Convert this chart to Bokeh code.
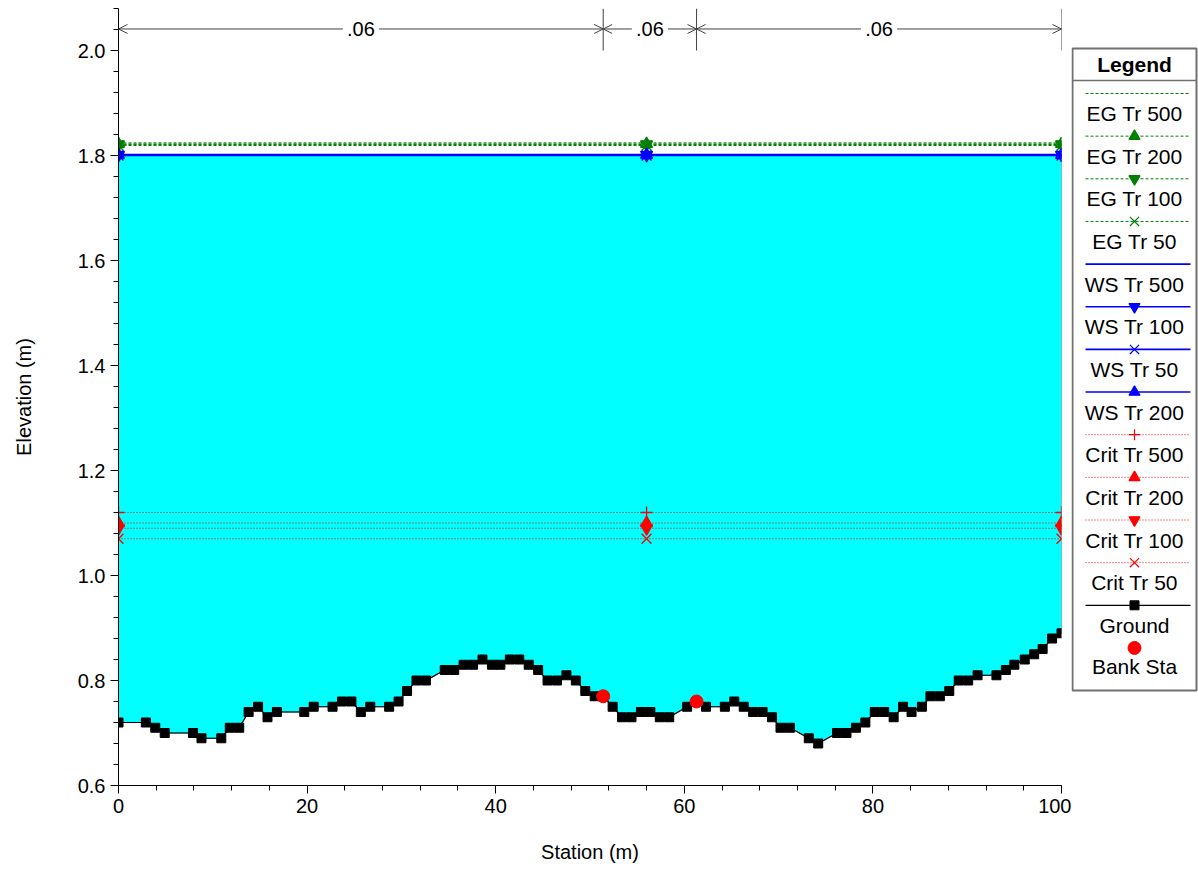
from bokeh.plotting import figure
from bokeh.models import Range1d, SingleIntervalTicker, PrintfTickFormatter, Arrow, OpenHead
from bokeh.layouts import row
from bokeh.embed import file_html
from bokeh.resources import INLINE
from bokeh.core.properties import value

FONT = "Liberation Sans"

# ---------------- data ----------------
station = [0, 2.9, 3.9, 4.9, 7.9, 8.8, 10.9, 11.8, 12.8, 13.8, 14.8, 15.8, 16.8, 19.7,
           20.7, 22.7, 23.7, 24.7, 25.7, 26.7, 28.7, 29.7, 30.6, 31.6, 32.6, 34.6, 35.6,
           36.6, 37.6, 38.6, 39.6, 40.5, 41.5, 42.5, 43.5, 44.5, 45.5, 46.5, 47.5, 48.5,
           49.5, 50.5, 51.4, 52.4, 53.4, 54.4, 55.4, 56.4, 57.4, 58.4, 60.3, 61.3, 62.3,
           64.3, 65.3, 66.3, 67.3, 68.3, 69.3, 70.2, 71.2, 73.2, 74.2, 76.2, 77.2, 78.2,
           79.2, 80.2, 81.2, 82.2, 83.2, 84.1, 85.2, 86.1, 87.1, 88.1, 89.1, 90.1, 91.1,
           93.1, 94.1, 95.0, 96.1, 97.1, 98.0, 99.0, 100]
elevation = [0.72, 0.72, 0.71, 0.70, 0.70, 0.69, 0.69, 0.71, 0.71, 0.74, 0.75, 0.73, 0.74, 0.74,
             0.75, 0.75, 0.76, 0.76, 0.74, 0.75, 0.75, 0.76, 0.78, 0.80, 0.80, 0.82, 0.82,
             0.83, 0.83, 0.84, 0.83, 0.83, 0.84, 0.84, 0.83, 0.82, 0.80, 0.80, 0.81, 0.80,
             0.78, 0.77, 0.77, 0.75, 0.73, 0.73, 0.74, 0.74, 0.73, 0.73, 0.75, 0.76, 0.75,
             0.75, 0.76, 0.75, 0.74, 0.74, 0.73, 0.71, 0.71, 0.69, 0.68, 0.70, 0.70, 0.71,
             0.72, 0.74, 0.74, 0.73, 0.75, 0.74, 0.75, 0.77, 0.77, 0.78, 0.80, 0.80, 0.81,
             0.81, 0.82, 0.83, 0.84, 0.85, 0.86, 0.88, 0.89]

bank_station = [51.4, 61.3]
bank_elevation = [0.77, 0.76]

profile_names = ["EG Tr 500", "EG Tr 200", "EG Tr 100", "EG Tr 50",
                 "WS Tr 500", "WS Tr 100", "WS Tr 50", "WS Tr 200",
                 "Crit Tr 500", "Crit Tr 200", "Crit Tr 100", "Crit Tr 50"]
profile_elev = [1.824, 1.822, 1.821, 1.819,
                1.802, 1.801, 1.800, 1.801,
                1.12, 1.10, 1.09, 1.07]
profile_markers = [None, "triangle", "inverted_triangle", "x",
                   None, "inverted_triangle", "x", "triangle",
                   "cross", "triangle", "inverted_triangle", "x"]
symbol_stations = [0, 56, 100]
water_surface = 1.80

n_stations = [0, 51.4, 61.3, 100]
n_values = [".06", ".06", ".06"]

x_start, x_end = 0, 100
y_start, y_end = 0.6, 2.08

STYLE = {"EG": ("#008000", "3 2", 1),
         "WS": ("#0000FF", "solid", 1.6),
         "Crit": ("#FF0000", "1 2", 1)}
MSIZE = {"triangle": 12, "inverted_triangle": 12, "x": 14, "cross": 12}

# ---------------- main figure ----------------
W, H = 1071, 868
BL, BR, BT, BB = 118, 10, 8, 83
p = figure(width=W, height=H, output_backend="svg", toolbar_location=None,
           x_range=Range1d(x_start, x_end), y_range=Range1d(y_start, y_end),
           min_border_left=BL, min_border_right=BR, min_border_top=BT,
           min_border_bottom=BB, background_fill_color="white")
p.outline_line_color = None
p.grid.visible = False

p.xaxis.ticker = SingleIntervalTicker(interval=20, num_minor_ticks=5)
p.yaxis.ticker = SingleIntervalTicker(interval=0.2, num_minor_ticks=5)
p.yaxis.formatter = PrintfTickFormatter(format="%.1f")
for ax in (p.xaxis, p.yaxis):
    ax.axis_line_color = "black"
    ax.major_tick_line_color = "black"
    ax.minor_tick_line_color = "black"
    ax.major_tick_out = 8
    ax.major_tick_in = 0
    ax.minor_tick_out = 5
    ax.minor_tick_in = 0
    ax.major_label_text_font = FONT
    ax.major_label_text_font_size = "20px"
    ax.major_label_text_color = "black"
    ax.axis_label_text_font = FONT
    ax.axis_label_text_font_size = "20px"
    ax.axis_label_text_font_style = "normal"
    ax.axis_label_text_color = "black"
p.xaxis.axis_label = "Station (m)"
p.yaxis.axis_label = "Elevation (m)"
p.xaxis.axis_label_standoff = 25
p.yaxis.axis_label_standoff = 40

# water fill
px = list(station) + [station[-1], station[0]]
py = list(elevation) + [water_surface, water_surface]
p.patch(px, py, fill_color="#00FFFF", line_color="#2a8a8a", line_width=1)

# profile lines and symbols
for name, ev, mk in zip(profile_names, profile_elev, profile_markers):
    kind = name.split()[0]
    col, dash, lw = STYLE[kind]
    p.line([x_start, x_end], [ev, ev], line_color=col, line_dash=dash, line_width=lw)
    if mk:
        p.scatter(symbol_stations, [ev] * len(symbol_stations), marker=mk,
                  size=MSIZE[mk], fill_color=col, line_color=col, line_width=1.3)

# ground
p.line(station, elevation, line_color="black", line_width=1.2)
p.scatter(station, elevation, marker="square", size=9, fill_color="black", line_color="black")
# bank stations
p.scatter(bank_station, bank_elevation, marker="circle", size=13,
          fill_color="#FF0000", line_color="#FF0000")

# n-value annotations
px_per_unit = (W - BL - BR) / (x_end - x_start)
gap = 18 / px_per_unit
y_arrow = 2.041
acol = "#404040"
for s in n_stations[1:]:
    p.line([s, s], [2.0, y_end], line_color=acol, line_width=1)
for a, b, lab in zip(n_stations[:-1], n_stations[1:], n_values):
    mid = (a + b) / 2
    p.add_layout(Arrow(x_start=mid - gap, y_start=y_arrow, x_end=a, y_end=y_arrow,
                       line_color=acol, line_width=1,
                       end=OpenHead(size=9, line_color=acol, line_width=1)))
    p.add_layout(Arrow(x_start=mid + gap, y_start=y_arrow, x_end=b, y_end=y_arrow,
                       line_color=acol, line_width=1,
                       end=OpenHead(size=9, line_color=acol, line_width=1)))
    p.text([mid], [y_arrow], text=[lab], text_align="center", text_baseline="middle",
           text_font=value(FONT), text_font_size="20px", text_color="black")

# ---------------- legend figure (page-pixel coordinates; frame aligned with main) ----------------
LW = 127
LX0 = W  # page x of legend figure's left edge
frame_top_px, frame_bot_px = BT, H - BB
lg = figure(width=LW, height=H, output_backend="svg", toolbar_location=None,
            x_range=Range1d(LX0, LX0 + LW), y_range=Range1d(frame_bot_px, frame_top_px),
            x_axis_location=None, y_axis_location=None,
            min_border_left=0, min_border_right=0,
            min_border_top=BT, min_border_bottom=BB)
lg.outline_line_color = None
lg.grid.visible = False

bx0, bx1 = LX0 + 1, LX0 + LW - 2
box_top, box_bot = 48, 690
lg.quad(left=[bx0], right=[bx1], top=[box_top], bottom=[box_bot],
        fill_color="white", line_color="#707070", line_width=2)
lg.line([bx0, bx1], [80, 80], line_color="#707070", line_width=1.5)
cx = (bx0 + bx1) / 2
lg.text([cx], [64], text=["Legend"], text_align="center", text_baseline="middle",
        text_font=value(FONT), text_font_size="21px", text_font_style="bold",
        text_color="black")

y0, step = 93, 42.65
lx0, lx1 = LX0 + 14, LX0 + 119
for i, (name, mk) in enumerate(zip(profile_names, profile_markers)):
    yy = y0 + i * step
    kind = name.split()[0]
    col, dash, lw = STYLE[kind]
    lg.line([lx0, lx1], [yy, yy], line_color=col, line_dash=dash, line_width=lw)
    if mk:
        lg.scatter([cx], [yy], marker=mk, size=MSIZE[mk] - 1, fill_color=col,
                   line_color=col, line_width=1.2)
    lg.text([cx], [yy + 20], text=[name], text_align="center", text_baseline="middle",
            text_font=value(FONT), text_font_size="21px", text_color="black")

i = len(profile_names)
yy = y0 + i * step
lg.line([lx0, lx1], [yy, yy], line_color="black", line_width=1.2)
lg.scatter([cx], [yy], marker="square", size=9, fill_color="black", line_color="black")
lg.text([cx], [yy + 20], text=["Ground"], text_align="center", text_baseline="middle",
        text_font=value(FONT), text_font_size="21px", text_color="black")
i += 1
yy = y0 + i * step
lg.scatter([cx], [yy], marker="circle", size=13, fill_color="#FF0000", line_color="#FF0000")
lg.text([cx], [yy + 19], text=["Bank Sta"], text_align="center", text_baseline="middle",
        text_font=value(FONT), text_font_size="21px", text_color="black")

layout = row(p, lg, spacing=0)
open("out.html", "w").write(file_html(layout, INLINE))
